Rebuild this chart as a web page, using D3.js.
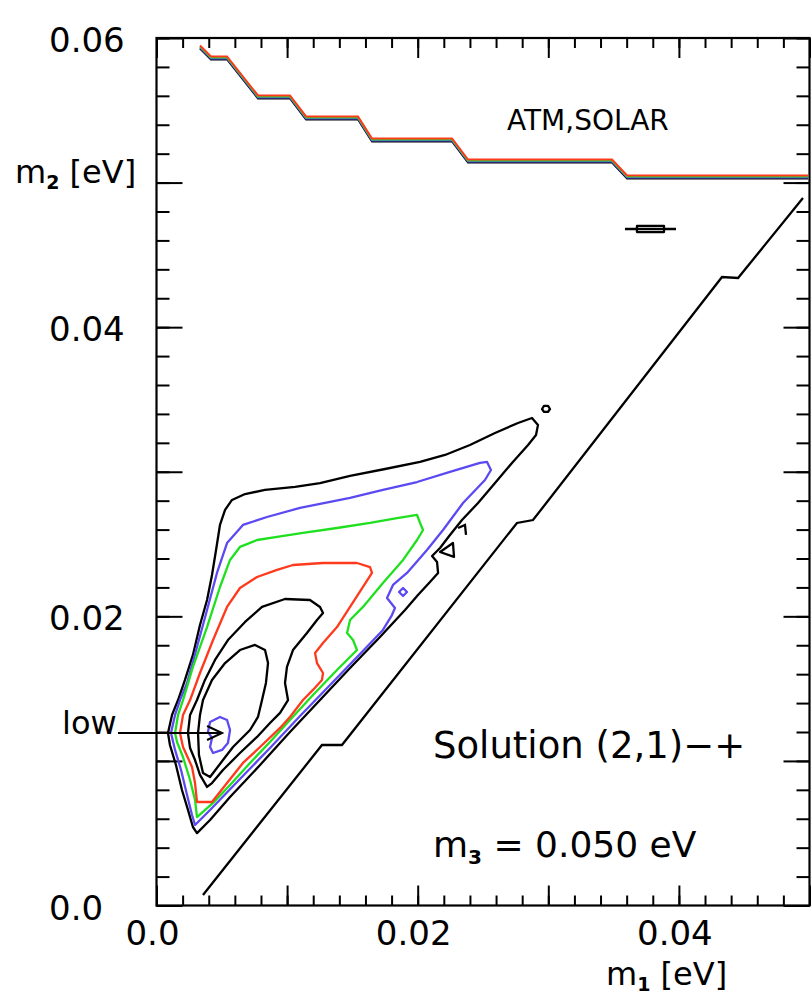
<!DOCTYPE html>
<html>
<head>
<meta charset="utf-8">
<script src="https://cdnjs.cloudflare.com/ajax/libs/d3/7.8.5/d3.min.js"></script>
<style>
body { margin: 0; background: #fff; }
svg text { font-family: "DejaVu Sans", "Liberation Sans", Arial, sans-serif; fill: #000; }
</style>
</head>
<body>
<div id="chart"></div>
<script>
// all contour points are [m1, m2] in meV (converted to eV when drawn)
var meV = 0.001

// allowed-region edges
var edge_top = [[3.33,59.38],[4.17,58.62],[5.40,58.62],[7.77,55.92],[10.22,55.92],[11.45,54.47],[15.43,54.47],
	[16.50,52.95],[22.63,52.95],[23.85,51.49],[34.88,51.49],[36.03,50.39],[49.89,50.39]]
var edge_diag = [[3.56,0.73],[12.67,11.10],[14.20,11.10],[27.60,26.46],[28.83,26.66],[43.30,43.47],[44.53,43.40],[49.50,48.93]]

// contour levels, outermost first
var c1_black = [[0.88,11.93],[1.19,13.18],[1.65,14.21],[2.18,15.60],[2.79,17.33],[3.33,19.40],[3.87,21.13],[4.25,22.86],
	[4.56,24.59],[4.86,26.32],[5.25,27.36],[5.78,28.05],[6.78,28.46],[8.31,28.74],[10.61,28.95],[12.52,29.22],[14.82,29.71],
	[17.50,30.19],[20.18,30.68],[22.09,31.16],[24.00,31.85],[25.92,32.68],[27.68,33.37],[28.75,33.72],[29.21,33.24],
	[29.06,32.54],[28.45,31.85],[27.22,30.61],[25.92,29.22],[24.62,27.84],[23.39,26.66],[22.47,25.63],[21.71,24.73],
	[21.10,24.17],[21.48,23.76],[21.56,23.00],[20.94,22.38],[20.02,21.48],[19.03,20.44],[17.11,18.57],[14.82,16.43],
	[12.52,14.21],[10.22,12.00],[7.93,9.72],[5.63,7.50],[4.10,5.91],[3.10,5.01],[2.79,5.43],[2.41,6.61],[1.95,7.99],
	[1.49,9.72],[1.03,11.10]]
var c2_blue = [[1.11,11.93],[1.42,13.18],[1.80,14.21],[2.34,15.39],[3.10,17.88],[3.87,20.44],[4.63,23.00],[5.40,25.07],
	[6.62,26.32],[8.46,26.87],[10.99,27.50],[14.82,28.19],[17.34,28.74],[19.95,29.29],[22.47,29.99],[24.77,30.61],
	[25.31,30.68],[25.61,30.12],[25.15,29.43],[23.47,27.84],[21.94,25.97],[20.71,24.59],[19.18,23.00],[18.11,22.17],
	[17.65,21.27],[18.26,20.58],[18.03,20.09],[17.34,19.06],[15.58,17.40],[13.29,15.25],[10.99,13.11],[8.69,10.89],
	[6.39,8.75],[4.10,6.61],[2.95,5.57],[2.72,6.26],[2.34,7.64],[1.88,9.37],[1.42,10.76]]
var c3_green = [[1.42,11.93],[1.65,13.18],[2.03,14.21],[2.79,16.50],[3.87,19.26],[4.86,22.03],[5.63,23.90],[6.39,24.80],
	[7.70,25.28],[9.23,25.49],[11.22,25.77],[13.82,26.11],[16.35,26.46],[18.42,26.80],[19.95,27.01],[20.18,26.46],
	[20.41,25.97],[19.95,25.28],[18.88,23.90],[17.34,22.31],[15.81,20.65],[14.82,19.75],[14.59,18.85],[15.05,18.36],
	[15.35,17.67],[13.82,16.29],[11.98,14.56],[10.22,12.83],[8.69,11.31],[7.16,9.86],[5.63,8.34],[4.33,7.09],
	[3.10,6.12],[2.95,7.30],[2.57,8.68],[2.03,10.27],[1.57,11.31]]
var c4_red = [[1.80,11.93],[2.03,13.18],[2.57,14.21],[3.33,16.08],[4.33,18.36],[5.40,20.65],[6.39,21.96],[7.70,22.72],
	[9.23,23.21],[10.45,23.55],[12.75,23.69],[15.35,23.69],[16.35,23.41],[16.50,23.00],[15.81,22.03],[14.82,20.65],
	[13.82,19.26],[12.75,18.16],[12.14,17.47],[12.29,16.77],[12.75,16.08],[12.67,15.60],[11.98,14.91],[11.22,14.21],
	[10.22,13.04],[9.46,12.28],[7.93,10.96],[6.62,9.86],[5.40,8.47],[4.25,7.16],[3.10,7.16],[2.95,8.47],[2.72,9.58],
	[2.03,10.96]]
var c5_black = [[2.41,11.93],[2.57,13.18],[3.10,14.21],[3.71,15.60],[4.48,16.98],[5.47,18.36],[6.78,19.61],[8.08,20.65],
	[9.84,21.20],[11.75,21.13],[12.52,20.65],[12.75,20.23],[12.29,19.75],[11.52,18.85],[10.45,17.67],[9.99,16.50],
	[9.84,15.39],[10.07,14.21],[9.46,13.32],[8.69,12.62],[7.70,11.66],[6.39,10.55],[5.09,9.37],[4.25,8.47],[3.87,8.20],
	[3.33,9.03],[2.95,10.06],[2.57,10.89]]
var c6_black = [[3.18,11.93],[3.33,13.18],[3.56,14.21],[4.25,15.60],[5.25,16.77],[6.39,17.67],[7.54,18.02],[8.31,17.67],
	[8.54,16.77],[8.38,15.39],[8.08,14.21],[7.77,13.04],[7.16,12.14],[5.86,10.96],[5.09,10.06],[4.10,8.89],[3.56,9.17],
	[3.25,10.41]]
var c7_blue_min = [[4.10,12.69],[4.86,13.04],[5.40,12.83],[5.63,12.14],[5.47,11.24],[5.02,10.76],[4.33,10.55],[4.10,10.96],
	[4.25,11.59],[3.94,12.00]]

// small islands
var island_blue = [[18.57,21.68],[18.88,21.96],[19.18,21.68],[18.88,21.41]]
var island_triangle = [[21.71,24.45],[22.70,25.07],[22.78,24.11]]
var island_mark = [[23.09,26.11],[23.62,26.32],[23.70,25.63]]
var island_ring = [[29.52,34.34],[29.67,34.55],[29.98,34.55],[30.13,34.34],[29.98,34.14],[29.67,34.14]]
var island_top = [[36.79,46.79],[36.79,46.58],[38.86,46.58],[38.86,47.00],[36.79,47.00]]
var island_top_whisker = [[35.87,46.79],[39.78,46.79]]

// best-fit point and arrow
var low_point = [5.02, 11.93]
var low_arrow_tail = [-2.95, 11.93]

var x_tick_values = [0, 0.02, 0.04]
var x_tick_labels = ["0.0", "0.02", "0.04"]
var y_tick_values = [0, 0.02, 0.04, 0.06]
var y_tick_labels = ["0.0", "0.02", "0.04", "0.06"]

var blue = "#5b4af2", green = "#1fe01f", red = "#ff3a1c"
var lw = 2.3

var svg = d3.select("#chart")
	.append("svg")
	.attr("width", 812)
	.attr("height", 995)

var x = d3.scaleLinear().domain([0, 0.05]).range([156.5, 809.5])
var y = d3.scaleLinear().domain([0, 0.06]).range([905.5, 38])

var line = d3.line()
	.x(function(d) { return x(d[0] * meV) })
	.y(function(d) { return y(d[1] * meV) })
var loop = d3.line()
	.x(function(d) { return x(d[0] * meV) })
	.y(function(d) { return y(d[1] * meV) })
	.curve(d3.curveLinearClosed)

// ticks (inward, minor every 0.002, major every 0.01)
var x_minor = d3.range(0, 51, 2).map(function(v) { return v / 1000 })
var x_major = d3.range(0, 51, 10).map(function(v) { return v / 1000 })
var y_minor = d3.range(0, 61, 2).map(function(v) { return v / 1000 })
var y_major = d3.range(0, 61, 10).map(function(v) { return v / 1000 })

function ticks(axis, scale, vals, len, tr) {
	svg.append("g")
		.attr("transform", tr)
		.call(axis(scale).tickValues(vals).tickSize(len).tickFormat(""))
		.call(function(g) { g.select(".domain").remove() })
		.selectAll("line").attr("stroke-width", 2)
}
ticks(d3.axisBottom, x, x_minor, -10, "translate(0,905.5)")
ticks(d3.axisBottom, x, x_major, -20, "translate(0,905.5)")
ticks(d3.axisTop, x, x_minor, -10, "translate(0,38)")
ticks(d3.axisTop, x, x_major, -20, "translate(0,38)")
ticks(d3.axisLeft, y, y_minor, -13, "translate(156.5,0)")
ticks(d3.axisLeft, y, y_major, -26, "translate(156.5,0)")
ticks(d3.axisRight, y, y_minor, -13, "translate(809.5,0)")
ticks(d3.axisRight, y, y_major, -26, "translate(809.5,0)")

svg.append("rect")
	.attr("x", 156.5).attr("y", 38)
	.attr("width", 653).attr("height", 867.5)
	.attr("fill", "none").attr("stroke", "#000").attr("stroke-width", 2.2)

// tick labels
svg.selectAll(".xlab").data(x_tick_values).enter().append("text")
	.attr("class", "xlab")
	.attr("x", function(d) { return x(d) - 4 })
	.attr("y", 945)
	.attr("text-anchor", "middle")
	.attr("font-size", 34)
	.text(function(d, i) { return x_tick_labels[i] })
svg.selectAll(".ylab").data(y_tick_values).enter().append("text")
	.attr("class", "ylab")
	.attr("x", 49)
	.attr("y", function(d) { return Math.max(45, y(d) + 14) })
	.attr("font-size", 34)
	.text(function(d, i) { return y_tick_labels[i] })

// axis titles
var ytitle = svg.append("text").attr("x", 15).attr("y", 183).attr("font-size", 32)
ytitle.append("tspan").text("m")
ytitle.append("tspan").attr("font-size", 19).attr("font-weight", "bold").attr("dy", 6).text("2")
ytitle.append("tspan").attr("dy", -6).text(" [eV]")

var xtitle = svg.append("text").attr("x", 606).attr("y", 985).attr("font-size", 32)
xtitle.append("tspan").text("m")
xtitle.append("tspan").attr("font-size", 19).attr("font-weight", "bold").attr("dy", 6).text("1")
xtitle.append("tspan").attr("dy", -6).text(" [eV]")

// region boundaries
var edge_colors = [["#000", 1.5], [blue, 0.5], [green, -0.5], [red, -1.5]]
edge_colors.forEach(function(c) {
	svg.append("path")
		.attr("d", line(edge_top))
		.attr("transform", "translate(0," + c[1] + ")")
		.attr("fill", "none").attr("stroke", c[0]).attr("stroke-width", 2)
})
svg.append("path").attr("d", line(edge_diag))
	.attr("fill", "none").attr("stroke", "#000").attr("stroke-width", lw)

// contours
var contours = [
	[c1_black, "#000"], [c2_blue, blue], [c3_green, green], [c4_red, red],
	[c5_black, "#000"], [c6_black, "#000"], [c7_blue_min, blue],
	[island_blue, blue], [island_triangle, "#000"], [island_ring, "#000"], [island_top, "#000"]
]
contours.forEach(function(c) {
	svg.append("path")
		.attr("d", loop(c[0]))
		.attr("fill", "none").attr("stroke", c[1]).attr("stroke-width", lw)
		.attr("stroke-linejoin", "round")
})
;[island_mark, island_top_whisker].forEach(function(p) {
	svg.append("path").attr("d", line(p))
		.attr("fill", "none").attr("stroke", "#000").attr("stroke-width", lw)
})

// "low" arrow
var tip = [x(low_point[0] * meV), y(low_point[1] * meV)]
svg.append("path").attr("d", line([low_arrow_tail, low_point]))
	.attr("fill", "none").attr("stroke", "#000").attr("stroke-width", 2)
svg.append("path")
	.attr("d", "M" + (tip[0] - 15) + "," + (tip[1] - 7) + "L" + tip[0] + "," + tip[1] + "L" + (tip[0] - 15) + "," + (tip[1] + 7))
	.attr("fill", "none").attr("stroke", "#000").attr("stroke-width", 2)
svg.append("text").attr("x", 62).attr("y", 734).attr("font-size", 32).text("low")

// annotations
svg.append("text").attr("x", 507).attr("y", 130).attr("font-size", 28).text("ATM,SOLAR")
svg.append("text").attr("x", 433).attr("y", 758).attr("font-size", 37).text("Solution (2,1)\u2212+")
var m3 = svg.append("text").attr("x", 433).attr("y", 857).attr("font-size", 36)
m3.append("tspan").text("m")
m3.append("tspan").attr("font-size", 20).attr("font-weight", "bold").attr("dy", 7).text("3")
m3.append("tspan").attr("dy", -7).text(" = 0.050 eV")
</script>
</body>
</html>
